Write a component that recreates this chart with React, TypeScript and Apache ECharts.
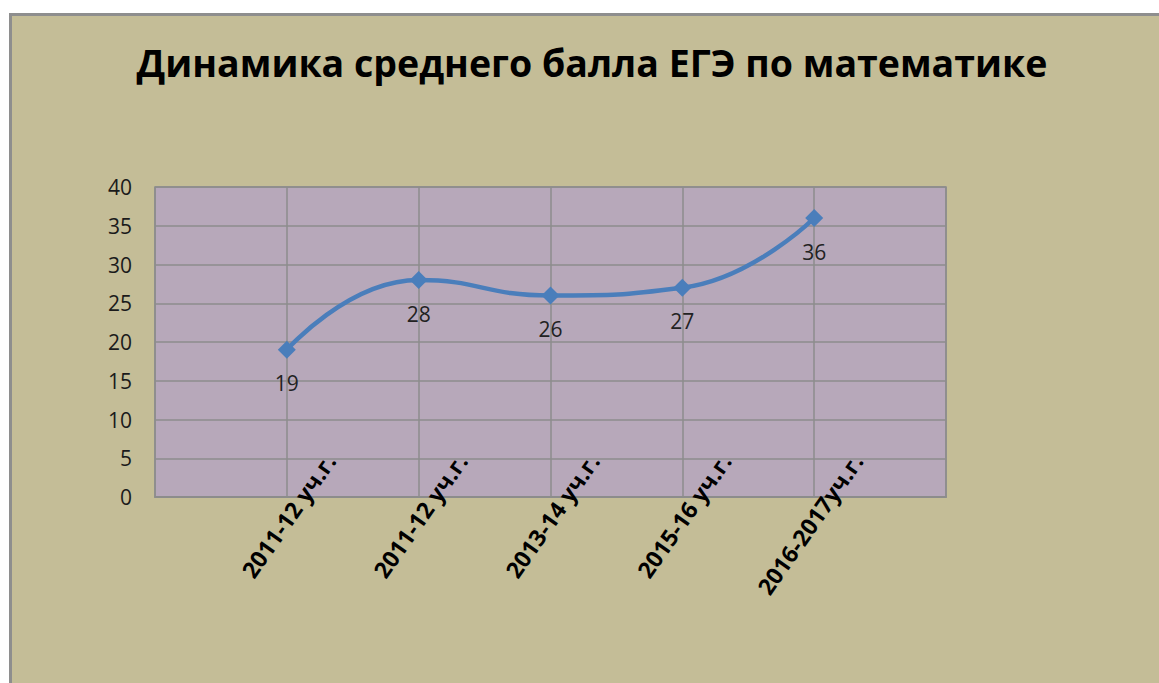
import React, { useEffect, useRef } from "react";
import * as echarts from "echarts";

const categories = ["", "2011-12 уч.г.", "2011-12 уч.г.", "2013-14 уч.г.", "2015-16 уч.г.", "2016-2017уч.г.", ""];
const scores = [null, 19, 28, 26, 27, 36, null];
const titleText = "Динамика среднего балла ЕГЭ по математике";

export default function App() {
  const ref = useRef<HTMLDivElement>(null);
  useEffect(() => {
    if (!ref.current) return;
    const chart = echarts.init(ref.current, undefined, { renderer: "svg" });
    chart.setOption({
      animation: false,
      backgroundColor: "#ffffff",
      graphic: [
        {
          type: "rect",
          z: -10,
          silent: true,
          shape: { x: 10.5, y: 14.5, width: 1160, height: 690 },
          style: { fill: "#C4BD97", stroke: "#8E8E8E", lineWidth: 3 },
        },
      ],
      title: {
        text: titleText,
        left: 587,
        textAlign: "center",
        top: 38,
        textStyle: {
          fontFamily: "Open Sans",
          fontWeight: "bold",
          fontSize: 37.5,
          color: "#000000",
        },
      },
      grid: {
        left: 155,
        top: 187,
        width: 791,
        height: 310,
        show: true,
        backgroundColor: "#B7A8BA",
        borderColor: "#8C8C8C",
        borderWidth: 1.5,
      },
      xAxis: {
        type: "category",
        data: categories,
        boundaryGap: false,
        axisTick: { show: false },
        axisLine: { lineStyle: { color: "#8C8C8C", width: 2 } },
        splitLine: { show: true, lineStyle: { color: "#8C8C8C", width: 1.5 } },
        axisLabel: {
          interval: 0,
          rotate: 55,
          margin: 21,
          padding: [0, -75, 0, 0],
          fontFamily: "Open Sans",
          fontWeight: "bold",
          fontSize: 23,
          color: "#000000",
        },
      },
      yAxis: {
        type: "value",
        min: 0,
        max: 40,
        interval: 5,
        axisLine: { show: false },
        axisTick: { show: false },
        splitLine: { show: true, lineStyle: { color: "#8C8C8C", width: 1.5 } },
        axisLabel: {
          margin: 23,
          fontFamily: "Open Sans",
          fontSize: 21,
          color: "#1a1a1a",
        },
      },
      series: [
        {
          type: "line",
          data: scores,
          smooth: 0.5,
          symbol: "diamond",
          symbolSize: 18,
          lineStyle: { color: "#4A7EBB", width: 4.5 },
          itemStyle: { color: "#4A7EBB" },
          label: {
            show: true,
            position: "bottom",
            distance: 14,
            fontFamily: "Open Sans",
            fontSize: 21,
            color: "#222222",
          },
        },
      ],
    });
    return () => chart.dispose();
  }, []);
  return (
    <div style={{ position: "fixed", left: 0, top: 0, width: 1159, height: 683, background: "#fff" }}>
      <div ref={ref} style={{ width: 1159, height: 683 }} />
    </div>
  );
}
